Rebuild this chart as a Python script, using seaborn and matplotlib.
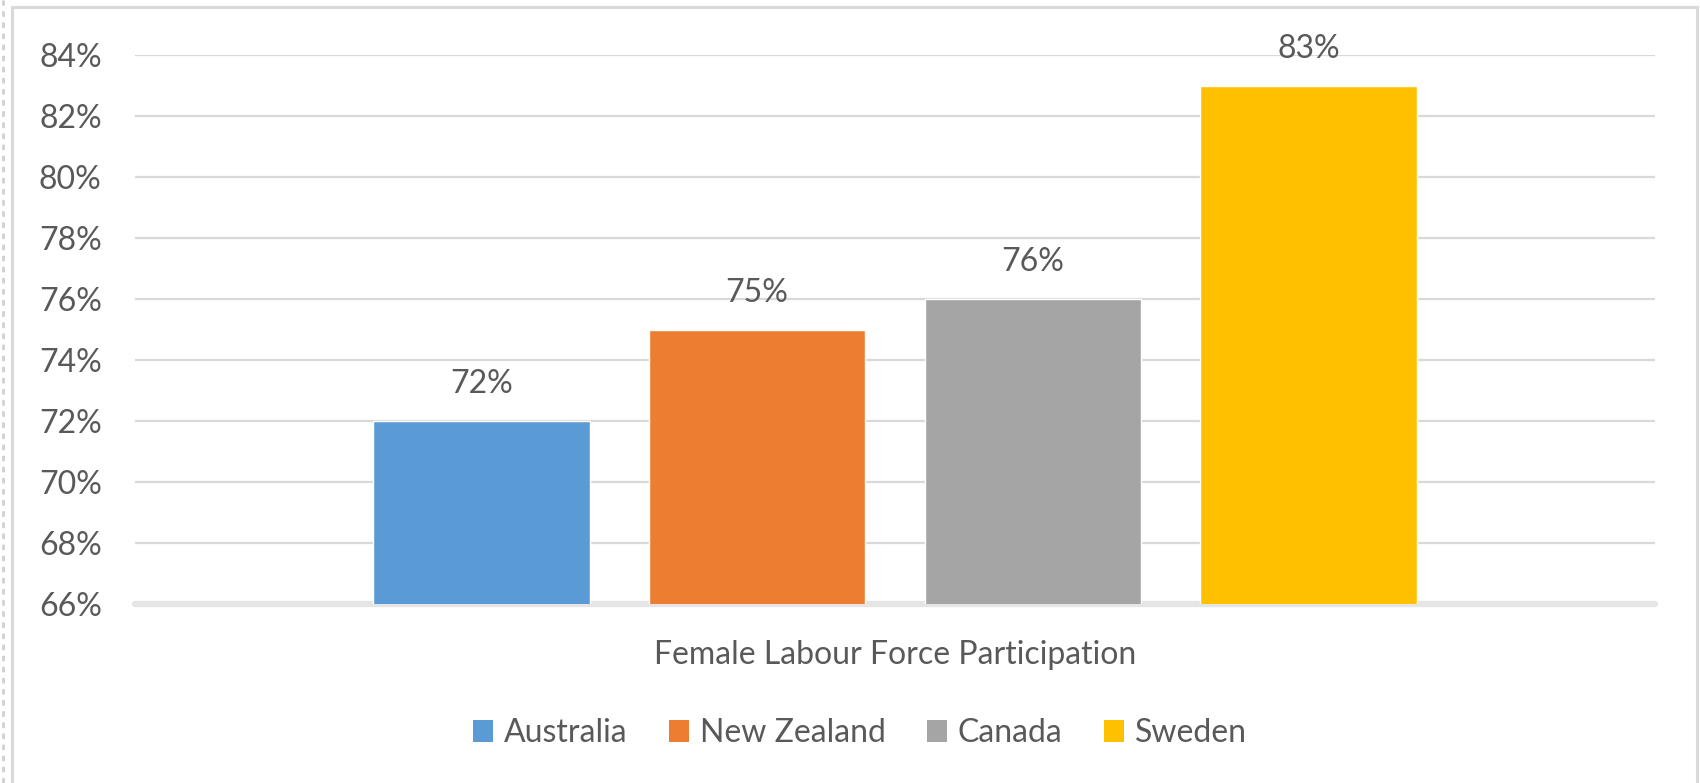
import matplotlib
matplotlib.use("Agg")
import matplotlib.pyplot as plt
import matplotlib.patches as mpatches
import matplotlib.lines as mlines
import seaborn as sns
import pandas as pd

countries = ["Australia", "New Zealand", "Canada", "Sweden"]
values = [72, 75, 76, 83]
category = "Female Labour Force Participation"
colors = ["#5B9BD5", "#ED7D31", "#A5A5A5", "#FFC000"]
yticks = [66, 68, 70, 72, 74, 76, 78, 80, 82, 84]

sns.set_style("white")
plt.rcParams["font.family"] = ["Lato", "DejaVu Sans"]
TXT = "#595959"
FS = 23

W, H = 1700, 783
fig = plt.figure(figsize=(W / 100, H / 100), dpi=100)
ax = fig.add_axes([135 / W, 1 - 604 / H, (1655 - 135) / W, (604 - 55) / H])

df = pd.DataFrame({"metric": [category] * len(countries), "country": countries, "value": values})
sns.barplot(data=df, x="metric", y="value", hue="country", hue_order=countries,
            palette=colors, width=0.726, gap=0.214, saturation=1, ax=ax,
            legend=True, zorder=3)

ax.set_ylim(66, 84)
ax.set_xlim(-0.5, 0.5)
ax.set_yticks(yticks)
ax.set_yticklabels([f"{v}%" for v in yticks])
ax.grid(axis="y", color="#D9D9D9", linewidth=1.6, zorder=0)
ax.grid(axis="x", visible=False)
ax.set_axisbelow(True)
for s in ax.spines.values():
    s.set_visible(False)
ax.axhline(66, color="#E5E5E5", linewidth=4.5, zorder=2, clip_on=False)

ax.tick_params(axis="y", length=0, pad=24, labelsize=FS, labelcolor=TXT)
ax.tick_params(axis="x", length=0, pad=26, labelsize=FS, labelcolor=TXT)
ax.set_xlabel("")
ax.set_ylabel("")

for cont, val in zip(ax.containers, values):
    for bar in cont:
        ax.annotate(f"{val}%", (bar.get_x() + bar.get_width() / 2, val),
                    xytext=(0, 26.5), textcoords="offset points",
                    ha="center", va="center", fontsize=FS, color=TXT)

leg = ax.legend(loc="center", bbox_to_anchor=(860 / W, 1 - 733 / H),
                bbox_transform=fig.transFigure, ncol=4, frameon=False,
                fontsize=FS, labelcolor=TXT, handlelength=0.62, handleheight=0.68,
                handletextpad=0.34, columnspacing=1.3)
for h in leg.legend_handles:
    h.set_edgecolor("none")

# chart border
fig.patches.append(mpatches.Rectangle((12 / W, -0.05), (1697 - 12) / W, 1.05 - 7 / H,
                                      transform=fig.transFigure, fill=False,
                                      edgecolor="#D9D9D9", linewidth=2.2))
fig.lines.append(mlines.Line2D([3 / W, 3 / W], [0, 1], transform=fig.transFigure,
                               color="#D0D0D0", linewidth=2, linestyle=(0, (2, 2))))

fig.savefig("out.png", dpi=100)
